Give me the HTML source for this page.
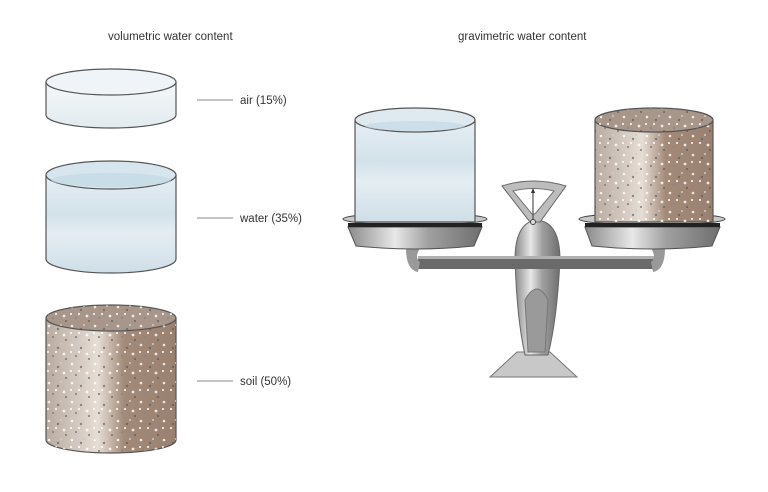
<!DOCTYPE html>
<html><head><meta charset="utf-8"><style>
html,body{margin:0;padding:0;background:#fff;width:768px;height:492px;overflow:hidden}
svg{display:block}
text{font-family:"Liberation Sans",sans-serif;fill:#333}
</style></head><body>
<svg width="768" height="492" viewBox="0 0 768 492" xmlns="http://www.w3.org/2000/svg">
<defs>
<linearGradient id="glass" x1="0" y1="0" x2="0" y2="1">
<stop offset="0" stop-color="#e6eff4"/><stop offset="0.4" stop-color="#d3e2ea"/><stop offset="0.6" stop-color="#e4edf2"/><stop offset="1" stop-color="#cfdee7"/></linearGradient>
<linearGradient id="air" x1="0" y1="0" x2="0" y2="1">
<stop offset="0" stop-color="#f4f7f9"/><stop offset="1" stop-color="#e3ebef"/></linearGradient>
<linearGradient id="soil" x1="0" y1="0" x2="1" y2="0">
<stop offset="0" stop-color="#b9aba0"/><stop offset="0.4" stop-color="#e6ddd5"/><stop offset="0.6" stop-color="#a38a78"/><stop offset="1" stop-color="#9a8070"/></linearGradient>
<linearGradient id="metal" x1="0" y1="0" x2="1" y2="0">
<stop offset="0" stop-color="#8a8a8a"/><stop offset="0.35" stop-color="#e8e8e8"/><stop offset="0.6" stop-color="#a0a0a0"/><stop offset="1" stop-color="#6e6e6e"/></linearGradient>
<pattern id="dots" width="23" height="19" patternUnits="userSpaceOnUse">
<circle cx="3" cy="3" r="1.3" fill="#fff" opacity=".8"/><circle cx="12" cy="6" r="1.2" fill="#555" opacity=".6"/>
<circle cx="18" cy="12" r="1.4" fill="#fff" opacity=".8"/><circle cx="7" cy="14" r="1.1" fill="#888"/>
<circle cx="15" cy="2" r="1" fill="#ccc"/><circle cx="20" cy="17" r="1" fill="#444" opacity=".6"/>
<circle cx="2" cy="10" r="1" fill="#fff"/><circle cx="10" cy="10" r="1" fill="#fff"/></pattern>
</defs>
<text x="108" y="40" font-size="11.5">volumetric water content</text>
<text x="458" y="40" font-size="11.5">gravimetric water content</text>

<!-- air -->
<path d="M46,82 L46,115 A65,13 0 0 0 176,115 L176,82 Z" fill="url(#air)" stroke="#555" stroke-width="1.2"/>
<ellipse cx="111" cy="82" rx="65" ry="13" fill="#eef4f7" stroke="#555" stroke-width="1.2"/>
<line x1="197" y1="100" x2="233" y2="100" stroke="#888"/>
<text x="240" y="104" font-size="11.5">air (15%)</text>

<!-- water -->
<path d="M46,175 L46,259 A65,14 0 0 0 176,259 L176,175 Z" fill="url(#glass)" stroke="#555" stroke-width="1.2"/>
<ellipse cx="111" cy="175" rx="65" ry="14" fill="#d7e6ee" stroke="#555" stroke-width="1.2"/>
<ellipse cx="111" cy="180" rx="60" ry="7" fill="#c3d9e6" opacity=".7"/>
<line x1="197" y1="218" x2="233" y2="218" stroke="#888"/>
<text x="240" y="222" font-size="11.5">water (35%)</text>

<!-- soil -->
<path d="M46,318 L46,440 A65,13 0 0 0 176,440 L176,318 Z" fill="url(#soil)" stroke="#555" stroke-width="1.2"/>
<path d="M46,318 L46,440 A65,13 0 0 0 176,440 L176,318 Z" fill="url(#dots)"/>
<ellipse cx="111" cy="318" rx="65" ry="13" fill="#a8968a" stroke="#555" stroke-width="1.2"/>
<ellipse cx="111" cy="318" rx="65" ry="13" fill="url(#dots)"/>
<line x1="197" y1="381" x2="233" y2="381" stroke="#888"/>
<text x="240" y="385" font-size="11.5">soil (50%)</text>

<!-- scale base -->
<path d="M490,377 L577,377 L550,352 L517,352 Z" fill="#c8c8c8" stroke="#777"/>
<path d="M515,260 Q515,222 537,220 Q560,222 560,260 Q557,320 548,355 L525,355 Q517,320 515,260 Z" fill="url(#metal)" stroke="#666"/>
<path d="M525,300 Q537,278 548,300 L545,352 L528,352 Z" fill="#9a9a9a" stroke="#777"/>
<!-- handle -->
<path d="M502,186 Q533,176 566,186 L540,222 L530,222 Z" fill="#bdbdbd" stroke="#666"/>
<path d="M513,191 Q533,186 554,191 L535,214 L532,214 Z" fill="#fff" stroke="#777"/>
<line x1="533" y1="219" x2="533" y2="190" stroke="#333"/>
<path d="M531,193 L533,188 L535,193 Z" fill="#333"/>
<circle cx="533" cy="222" r="2.5" fill="#ddd" stroke="#444"/>
<!-- beam -->
<rect x="418" y="256" width="237" height="13" fill="#6a6a6a"/>
<rect x="418" y="256" width="237" height="3" fill="#b0b0b0"/>
<path d="M406,248 Q406,270 418,272 L420,262 Q414,258 420,248 Z" fill="#999"/>
<path d="M665,248 Q665,270 653,272 L651,262 Q657,258 651,248 Z" fill="#999"/>

<!-- left pan -->
<path d="M348,227 L482,227 L474,246 Q415,252 356,246 Z" fill="url(#metal)" stroke="#555"/>
<ellipse cx="415" cy="219" rx="72" ry="6" fill="#c8c8c8" stroke="#444"/>
<rect x="348" y="223" width="134" height="4" fill="#222"/>
<!-- left cylinder -->
<path d="M355,120 L355,222 L475,222 L475,120 Z" fill="url(#glass)" stroke="#555" stroke-width="1.2"/>
<ellipse cx="415" cy="120" rx="60" ry="12" fill="#dfeaf0" stroke="#555" stroke-width="1.2"/>
<ellipse cx="415" cy="126" rx="50" ry="5" fill="#c3d9e6" opacity=".7"/>

<!-- right pan -->
<path d="M585,227 L720,227 L712,246 Q652,252 592,246 Z" fill="url(#metal)" stroke="#555"/>
<ellipse cx="652" cy="219" rx="73" ry="6" fill="#c8c8c8" stroke="#444"/>
<rect x="585" y="223" width="135" height="4" fill="#222"/>
<!-- right cylinder -->
<path d="M595,120 L595,222 L713,222 L713,120 Z" fill="url(#soil)" stroke="#555" stroke-width="1.2"/>
<path d="M595,120 L595,222 L713,222 L713,120 Z" fill="url(#dots)"/>
<ellipse cx="654" cy="120" rx="59" ry="12" fill="#a8968a" stroke="#555" stroke-width="1.2"/>
<ellipse cx="654" cy="120" rx="59" ry="12" fill="url(#dots)"/>
</svg>
</body></html>
